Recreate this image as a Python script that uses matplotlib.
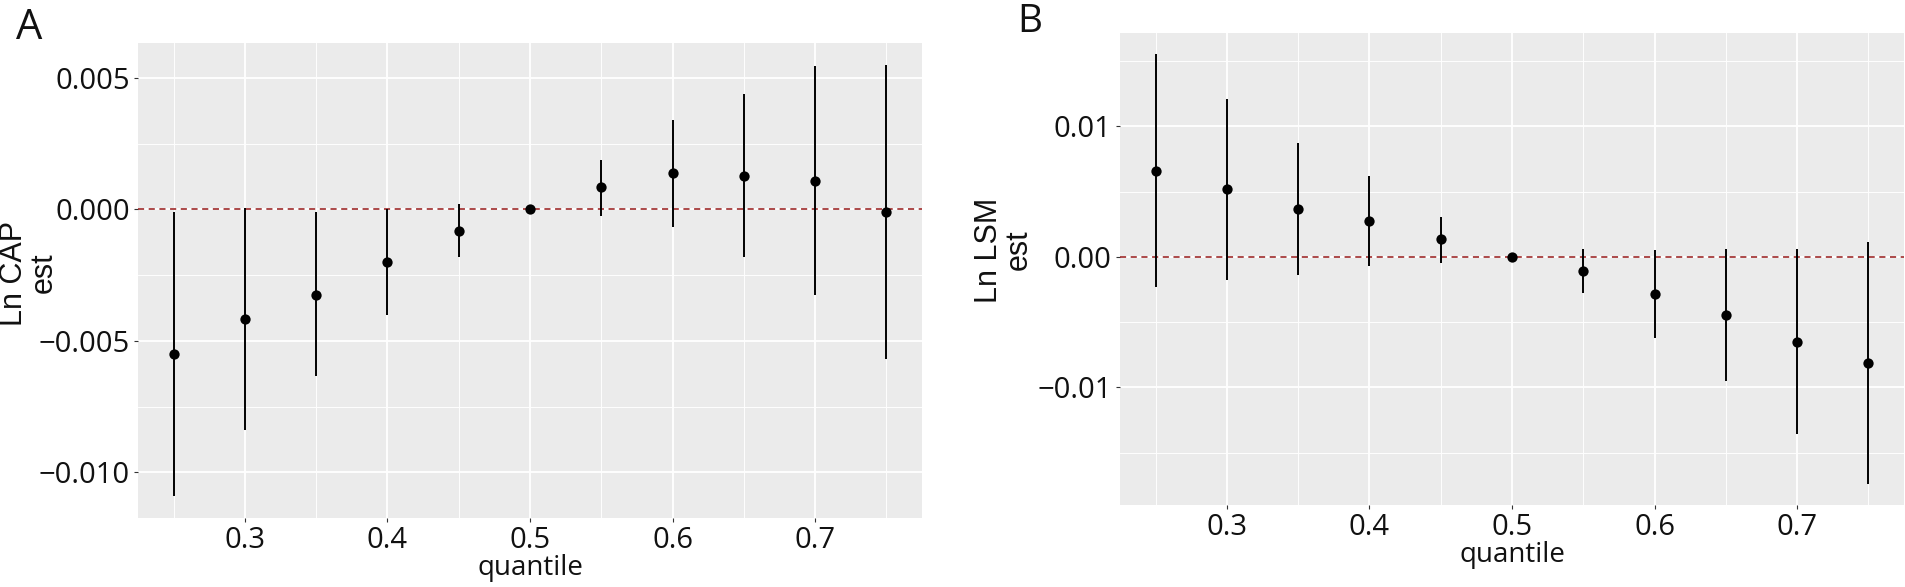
import matplotlib
matplotlib.use("Agg")
import matplotlib.pyplot as plt
from matplotlib.ticker import FixedLocator

# quantile regression estimates
quantiles = [0.25, 0.30, 0.35, 0.40, 0.45, 0.50, 0.55, 0.60, 0.65, 0.70, 0.75]

cap_est = [-0.00550, -0.00415, -0.00325, -0.00200, -0.00082, 0.0,
           0.00084, 0.00138, 0.00129, 0.00109, -0.00009]
cap_low = [-0.01091, -0.00840, -0.00635, -0.00403, -0.00182, 0.0,
           -0.00023, -0.00068, -0.00182, -0.00327, -0.00567]
cap_high = [-0.00009, 0.00006, -0.00011, 0.0, 0.00019, 0.0,
            0.00188, 0.00342, 0.00438, 0.00546, 0.00551]

lsm_est = [0.00660, 0.00519, 0.00364, 0.00276, 0.00135, 0.0,
           -0.00106, -0.00281, -0.00445, -0.00649, -0.00809]
lsm_low = [-0.00232, -0.00178, -0.00141, -0.00066, -0.00043, 0.0,
           -0.00273, -0.00617, -0.00953, -0.01354, -0.01736]
lsm_high = [0.01552, 0.01214, 0.00872, 0.00617, 0.00310, 0.0,
            0.00060, 0.00055, 0.00060, 0.00060, 0.00118]

x_ticks = [0.3, 0.4, 0.5, 0.6, 0.7]
x_minor = [0.25, 0.35, 0.45, 0.55, 0.65, 0.75]
cap_ticks = [-0.010, -0.005, 0.000, 0.005]
cap_tick_labels = ["\u22120.010", "\u22120.005", "0.000", "0.005"]
cap_minor = [-0.0075, -0.0025, 0.0025]
lsm_ticks = [-0.01, 0.00, 0.01]
lsm_tick_labels = ["\u22120.01", "0.00", "0.01"]
lsm_minor = [-0.015, -0.005, 0.005, 0.015]

W, H = 1905, 587
TICK_FONT = "Open Sans"
LABEL_FONT = "Liberation Sans"


def pad_range(lo, hi, frac=0.05):
    span = hi - lo
    return lo - span * frac, hi + span * frac


def draw_panel(ax, est, low, high, yticks, ylabels, yminor):
    ax.set_facecolor("#EBEBEB")
    for s in ax.spines.values():
        s.set_visible(False)

    ax.set_xlim(*pad_range(min(quantiles), max(quantiles)))
    ax.set_ylim(*pad_range(min(low), max(high)))

    ax.xaxis.set_major_locator(FixedLocator(x_ticks))
    ax.xaxis.set_minor_locator(FixedLocator(x_minor))
    ax.yaxis.set_major_locator(FixedLocator(yticks))
    ax.yaxis.set_minor_locator(FixedLocator(yminor))
    ax.set_xticklabels([f"{t:.1f}" for t in x_ticks])
    ax.set_yticklabels(ylabels)

    ax.grid(which="major", color="white", linewidth=1.3, zorder=0)
    ax.grid(which="minor", color="white", linewidth=0.65, zorder=0)
    ax.set_axisbelow(True)

    ax.tick_params(which="major", length=3, width=0.8, color="#333333",
                   labelsize=21, labelcolor="#111111", pad=3)
    ax.tick_params(which="minor", length=0)
    for lab in ax.get_xticklabels() + ax.get_yticklabels():
        lab.set_fontfamily(TICK_FONT)

    ax.axhline(0, color="#951818", linewidth=1.1, linestyle=(0, (4, 3)), zorder=2)
    ax.vlines(quantiles, low, high, color="black", linewidth=1.4, zorder=3)
    ax.scatter(quantiles, est, s=55, color="black", zorder=4, linewidths=0)

    ax.set_xlabel("quantile", fontsize=20, fontfamily=TICK_FONT,
                  color="#111111", labelpad=-1)


fig = plt.figure(figsize=(W / 100, H / 100), dpi=100)

# panel A: px 138..922 horizontally, 43..518 vertically
ax_a = fig.add_axes([138 / W, 1 - 518 / H, 784 / W, 475 / H])
draw_panel(ax_a, cap_est, cap_low, cap_high, cap_ticks, cap_tick_labels, cap_minor)

# panel B: px 1120..1904 horizontally, 33..505 vertically
ax_b = fig.add_axes([1120 / W, 1 - 505 / H, 784 / W, 472 / H])
draw_panel(ax_b, lsm_est, lsm_low, lsm_high, lsm_ticks, lsm_tick_labels, lsm_minor)

fig.text(29 / W, 1 - 273 / H, "Ln CAP\nest", rotation=90, ha="center",
         va="center", ma="center", fontsize=22, fontfamily=LABEL_FONT,
         color="#111111", linespacing=1.0)
fig.text(1004 / W, 1 - 250 / H, "Ln LSM\nest", rotation=90, ha="center",
         va="center", ma="center", fontsize=22, fontfamily=LABEL_FONT,
         color="#111111", linespacing=1.0)

fig.text(16 / W, 1 - 39 / H, "A", fontsize=30, fontfamily=TICK_FONT,
         color="#111111", ha="left", va="baseline")
fig.text(1017 / W, 1 - 32 / H, "B", fontsize=28, fontfamily=TICK_FONT,
         color="#111111", ha="left", va="baseline")

fig.savefig("out.png", dpi=100, facecolor="white")
